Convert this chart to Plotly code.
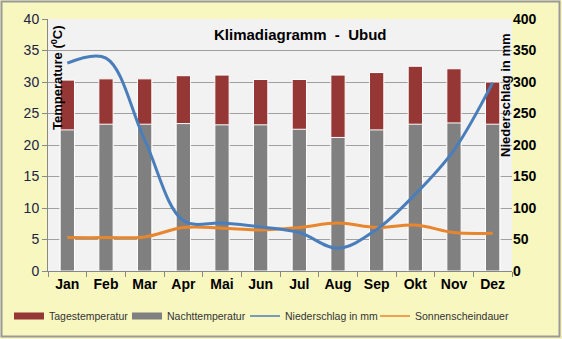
import plotly.graph_objects as go

# Monthly climate data for Ubud
months = ["Jan", "Feb", "Mar", "Apr", "Mai", "Jun", "Jul", "Aug", "Sep", "Okt", "Nov", "Dez"]
tagestemperatur = [30.3, 30.5, 30.5, 31.0, 31.1, 30.4, 30.4, 31.1, 31.5, 32.5, 32.1, 30.0]
nachttemperatur = [22.4, 23.3, 23.3, 23.4, 23.2, 23.2, 22.5, 21.2, 22.4, 23.3, 23.5, 23.3]
niederschlag = [330, 338, 208, 80, 76, 70, 61, 36, 66, 122, 192, 299]
sonnenschein = [5.3, 5.3, 5.4, 6.9, 6.8, 6.5, 6.9, 7.6, 6.9, 7.3, 6.1, 6.0]

RED, GREY, BLUE, ORANGE = "#953735", "#808080", "#4A7EBB", "#E8862E"

W, H = 562, 339
ML, MR, MT, MB = 48, 50, 19, 68
PW, PH = W - ML - MR, H - MT - MB


def px_x(p):
    return (p - ML) / PW


def px_y(p):
    return 1 - (p - MT) / PH


fig = go.Figure()
fig.add_trace(go.Bar(
    x=months, y=tagestemperatur, name="Tagestemperatur", legendgroup="tag", showlegend=False,
    marker=dict(color=RED, line=dict(color="white", width=1)), width=0.37,
))
fig.add_trace(go.Bar(
    x=months, y=nachttemperatur, name="Nachttemperatur", legendgroup="nacht", showlegend=False,
    marker=dict(color=GREY, line=dict(color="white", width=1)), width=0.37,
))
fig.add_trace(go.Scatter(
    x=months, y=niederschlag, name="Niederschlag in mm", yaxis="y2", legendgroup="nied",
    showlegend=False, mode="lines",
    line=dict(color=BLUE, width=3, shape="spline", smoothing=1.0),
))
fig.add_trace(go.Scatter(
    x=months, y=sonnenschein, name="Sonnenscheindauer", legendgroup="sonne", showlegend=False,
    mode="lines", line=dict(color=ORANGE, width=3, shape="spline", smoothing=1.0),
))

# Legend row: one small legend per entry so each key sits at its own spot
legend_entries = [("Tagestemperatur", RED, 7, "tag", 9),
                  ("Nachttemperatur", GREY, 7, "nacht", 127),
                  ("Niederschlag in mm", BLUE, 1.5, "nied", 245),
                  ("Sonnenscheindauer", ORANGE, 1.5, "sonne", 375)]
legend_layouts = {}
for i, (name, color, lw, grp, left) in enumerate(legend_entries):
    key = "legend" if i == 0 else f"legend{i + 1}"
    fig.add_trace(go.Scatter(x=[None], y=[None], name=name, mode="lines", legendgroup=grp,
                             legend=key, line=dict(color=color, width=lw), showlegend=True))
    legend_layouts[key] = dict(
        orientation="h", x=px_x(left), xanchor="left", y=px_y(316), yanchor="middle",
        font=dict(family="Arial", size=10.5, color="#333333"),
        bgcolor="rgba(0,0,0,0)", itemwidth=30,
    )

annotations = [
    dict(text="<b>Klimadiagramm  -  Ubud</b>", x=px_x(300), y=px_y(34), xref="paper", yref="paper",
         xanchor="center", yanchor="middle",
         showarrow=False, font=dict(family="Arial", size=15, color="black")),
    dict(text="<b>Temperature (<sup>0</sup>C)</b>", x=px_x(57), y=px_y(78), xref="paper", yref="paper",
         xanchor="center", yanchor="middle",
         showarrow=False, textangle=-90, font=dict(family="Arial", size=13, color="black")),
    dict(text="<b>Niederschlag in mm</b>", x=px_x(505), y=px_y(95), xref="paper", yref="paper",
         xanchor="center", yanchor="middle",
         showarrow=False, textangle=-90, font=dict(family="Arial", size=13, color="black")),
]

fig.update_layout(
    width=W, height=H,
    margin=dict(l=ML, r=MR, t=MT, b=MB, autoexpand=False),
    paper_bgcolor="#F8F7C0",
    plot_bgcolor="#F2F2F2",
    barmode="overlay",
    showlegend=True,
    xaxis=dict(
        type="category", showgrid=False, showline=True, linecolor="#888888", linewidth=1,
        ticks="outside", ticklen=5, tickcolor="#888888", tickson="boundaries",
        tickfont=dict(family="Arial", size=14, color="black", weight="bold"),
    ),
    yaxis=dict(
        range=[0, 40], dtick=5, showgrid=True, gridcolor="#A0A0A0", gridwidth=1,
        showline=True, linecolor="#888888", ticks="outside", ticklen=5, tickcolor="#888888",
        tickfont=dict(family="Arial", size=14, color="#222244"), zeroline=False,
    ),
    yaxis2=dict(
        range=[0, 400], dtick=50, overlaying="y", side="right", showgrid=False,
        showline=False, ticks="", zeroline=False,
        tickfont=dict(family="Arial", size=14, color="black", weight="bold"),
    ),
    annotations=annotations,
    shapes=[dict(type="rect", xref="paper", yref="paper",
                 x0=px_x(1.5), x1=px_x(559.5), y0=px_y(1.5), y1=px_y(336.5),
                 line=dict(color="#999999", width=2), fillcolor="rgba(0,0,0,0)", layer="above")],
    **legend_layouts,
)

fig.write_html("out.html")
